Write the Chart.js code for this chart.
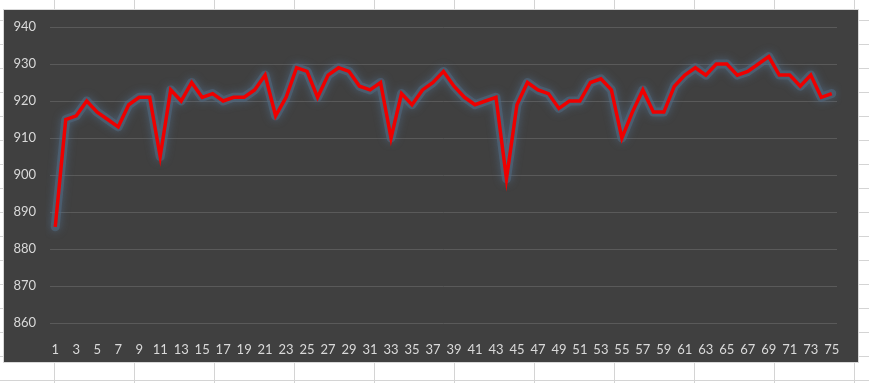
<!DOCTYPE html>
<html>
<head>
<meta charset="utf-8">
<script src="https://cdn.jsdelivr.net/npm/chart.js@4/dist/chart.umd.min.js"></script>
<style>
    html, body {margin: 0; padding: 0;}
    body {
        width: 869px; height: 383px; overflow: hidden; position: relative;
        background-color: #fff;
        /* spreadsheet cells behind the chart */
        background-image:
            repeating-linear-gradient(to right, transparent 0px, transparent 53px, #d4d4d4 53px, #d4d4d4 54px, transparent 54px, transparent 80px),
            repeating-linear-gradient(to bottom, transparent 0px, transparent 20px, #d4d4d4 20px, #d4d4d4 21px, transparent 21px, transparent 24px);
        background-size: 80px 100%, 100% 24px;
        background-position: 1px 0, 0 0;
    }
    #box {
        position: absolute; left: 4px; top: 10px; width: 854px; height: 352px;
        background: #404040; border: 1px solid #d9d9d9; box-sizing: content-box;
        margin-left: -1px; margin-top: -1px;
    }
</style>
</head>
<body>
<div id="box"><canvas id="graph" width="854" height="352"></canvas></div>
<script>
const labels = [];
for (let i = 1; i <= 75; i++) labels.push(String(i));

const values = [
    886, 915, 916, 920, 917, 915, 913, 919, 921, 921,
    905, 923, 920, 925, 921, 922, 920, 921, 921, 923,
    927, 916, 921, 929, 928, 921, 927, 929, 928, 924,
    923, 925, 910, 922, 919, 923, 925, 928, 924, 921,
    919, 920, 921, 899, 919, 925, 923, 922, 918, 920,
    920, 925, 926, 923, 910, 917, 923, 917, 917, 924,
    927, 929, 927, 930, 930, 927, 928, 930, 932, 927,
    927, 924, 927, 921, 922
];

const yMin = 860;
const yMax = 940;
const yStep = 10;

// soft blue glow: blur the wide line drawn under the red one
const glow = {
    id: "glow",
    beforeDatasetDraw(chart, args) {
        const ctx = chart.ctx;
        ctx.save();
        if (args.index === 0) {
            ctx.shadowColor = "rgba(85,120,155,0.9)";
            ctx.shadowBlur = 8;
        }
    },
    afterDatasetDraw(chart) {
        chart.ctx.restore();
    }
};

var chart = new Chart("graph", {
    type: "line",
    data: {
        labels: labels,
        datasets: [{
            // glow underneath
            data: values,
            borderColor: "rgba(80,105,130,0.55)",
            borderWidth: 9,
            borderJoinStyle: "round",
            borderCapStyle: "round",
            pointRadius: 0,
            tension: 0,
            fill: false,
            order: 2
        }, {
            data: values,
            borderColor: "#ee0000",
            borderWidth: 3.5,
            pointRadius: 0,
            tension: 0,
            fill: false,
            order: 1
        }]
    },
    options: {
        responsive: false,
        animation: false,
        plugins: {legend: {display: false}, tooltip: {enabled: false}},
        layout: {padding: {left: 0, right: 21, top: 17, bottom: 0}},
        scales: {
            x: {
                offset: true,
                grid: {display: false},
                border: {display: false},
                afterFit: (axis) => { axis.height = 39; },
                ticks: {
                    autoSkip: false,
                    maxRotation: 0,
                    padding: 11,
                    color: "#d9d9d9",
                    font: {family: "Lato", size: 13},
                    callback: function (v, i) { return i % 2 === 0 ? this.getLabelForValue(v) : ""; }
                }
            },
            y: {
                min: yMin,
                max: yMax,
                grid: {color: "#5a5a5a", drawTicks: false},
                border: {display: false},
                afterFit: (axis) => {
                    // fixed axis width, no extra room above the top label
                    axis.width = 46;
                    axis.paddingTop = 0;
                    axis.paddingBottom = 0;
                },
                ticks: {
                    stepSize: yStep,
                    padding: 14,
                    color: "#d9d9d9",
                    font: {family: "Lato", size: 13}
                }
            }
        }
    },
    plugins: [glow]
});
</script>
</body>
</html>
